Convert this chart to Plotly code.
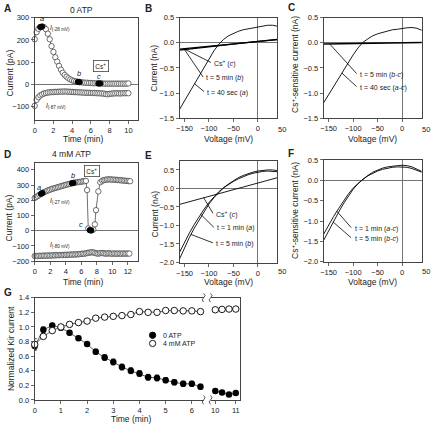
import plotly.graph_objects as go

W, H = 431, 432
def X(p): return p / W
def Y(p): return 1 - p / H

FONT = "Liberation Sans, Arial, sans-serif"
INK = "#222"

# ---------------- DATA ----------------
# Panel A (0 ATP)
tA = [0.0, 0.2, 0.4, 0.6, 0.8, 1.0, 1.2, 1.4, 1.6, 1.8, 2.0, 2.2, 2.4, 2.6, 2.8,
      3.0, 3.2, 3.4, 3.6, 3.8, 4.0, 4.2, 4.4, 4.6, 4.8, 5.0, 5.2, 5.4, 5.6, 5.8,
      6.0, 6.2, 6.4, 6.6, 6.8, 7.0, 7.2, 7.4, 7.6, 7.8, 8.0, 8.2, 8.4, 8.6, 8.8,
      9.0, 9.2, 9.4, 9.6, 9.8, 10.0]
iA_up = [203, 235, 250, 258, 260, 257, 248, 228, 203, 172, 146, 122, 102, 83, 66,
         52, 42, 34, 27, 22, 18, 15, 13, 11, 10, 9, 8, 7, 7, 6,
         6, 5, 5, 5, 4, 4, 4, 3, 3, 3, 3, 3, 3, 3, 3,
         3, 3, 3, 3, 3, 4]
iA_low = [-97, -70, -58, -50, -45, -41, -39, -37, -36, -35, -35, -34, -34, -33, -33,
          -33, -32, -33, -33, -34, -34, -35, -35, -36, -36, -37, -37, -38, -38, -38,
          -39, -39, -39, -40, -40, -41, -41, -42, -44, -45, -43, -42, -41, -41, -40,
          -41, -41, -40, -40, -40, -40]
tA_filled = [0.6, 0.8, 4.6, 4.8, 6.8, 7.0]

# Panel D (4 mM ATP)
tD_up = [0.0, 0.2, 0.4, 0.6, 0.8, 1.0, 1.2, 1.4, 1.6, 1.8, 2.0, 2.2, 2.4, 2.6, 2.8,
         3.0, 3.2, 3.4, 3.6, 3.8, 4.0, 4.2, 4.4, 4.6, 4.8, 5.0, 5.2, 5.4, 5.6, 5.8,
         6.0, 6.2, 6.4, 6.6, 6.75, 6.9, 7.1, 7.3, 7.55, 7.75, 7.9, 8.2, 8.45, 8.7,
         8.9, 9.1, 9.3, 9.5, 9.7, 9.9, 10.1, 10.3, 10.5, 10.7, 10.9, 11.1, 11.3,
         11.5, 11.7, 11.9, 12.1, 12.3]
iD_up = [215, 222, 228, 235, 242, 248, 252, 257, 262, 266, 270, 274, 277, 280, 283,
         286, 289, 292, 295, 298, 301, 304, 306, 309, 312, 314, 316, 318, 319, 320,
         322, 324, 325, 327, 267, 15, 4, 2, 8, 42, 135, 258, 318, 328,
         332, 334, 336, 337, 337, 336, 335, 335, 334, 333, 332, 331, 330,
         329, 328, 327, 326, 325]
tD_low = [0.0, 0.2, 0.4, 0.6, 0.8, 1.0, 1.2, 1.4, 1.6, 1.8, 2.0, 2.2, 2.4, 2.6, 2.8,
          3.0, 3.2, 3.4, 3.6, 3.8, 4.0, 4.2, 4.4, 4.6, 4.8, 5.0, 5.2, 5.4, 5.6, 5.8,
          6.0, 6.2, 6.4, 6.6, 6.8, 7.0, 7.2, 7.4, 7.6, 7.8, 8.0, 8.2, 8.4, 8.6, 8.8,
          9.0, 9.2, 9.4, 9.6, 9.8, 10.0, 10.2, 10.4, 10.6, 10.8, 11.0, 11.2, 11.4,
          11.6, 11.8, 12.0, 12.2]
iD_low = [-166, -165, -166, -164, -165, -164, -163, -164, -163, -162,
          -163, -162, -161, -162, -160, -161, -160, -159, -160, -158,
          -159, -157, -158, -156, -157, -155, -156, -154, -155, -153,
          -152, -150, -151, -148, -146, -144, -142, -141, -143, -146,
          -149, -150, -148, -146, -147, -149, -150, -149, -148, -150,
          -151, -149, -150, -151, -149, -150, -151, -149, -150, -150,
          -149, -150]
tD_filled = [0.8, 1.0, 4.8, 5.0, 7.1, 7.3]

# I-V curves (voltage in mV, current in nA)
V = [-160, -150, -140, -130, -120, -110, -100, -90, -80, -70, -60, -50, -40, -30,
     -20, -10, 0, 10, 20, 30, 40]
B_a = [-1.32, -1.15, -0.98, -0.81, -0.64, -0.47, -0.31, -0.16, -0.03, 0.07, 0.14,
       0.19, 0.23, 0.26, 0.28, 0.30, 0.31, 0.33, 0.35, 0.35, 0.33]
B_b = [-0.145, -0.135, -0.124, -0.113, -0.102, -0.091, -0.080, -0.069, -0.058,
       -0.047, -0.036, -0.025, -0.014, -0.003, 0.008, 0.019, 0.030, 0.040, 0.050,
       0.060, 0.070]
B_c = [-0.125, -0.116, -0.106, -0.097, -0.087, -0.078, -0.068, -0.059, -0.049,
       -0.040, -0.030, -0.021, -0.011, -0.002, 0.008, 0.017, 0.027, 0.036, 0.046,
       0.055, 0.065]
C_ac = [-1.19, -1.03, -0.87, -0.71, -0.55, -0.39, -0.24, -0.10, 0.01, 0.08, 0.14,
        0.18, 0.21, 0.24, 0.26, 0.27, 0.29, 0.30, 0.305, 0.29, 0.25]
C_bc = [-0.022, -0.020, -0.019, -0.017, -0.015, -0.013, -0.012, -0.010, -0.008,
        -0.006, -0.004, -0.002, 0.000, 0.002, 0.003, 0.004, 0.005, 0.006, 0.007,
        0.007, 0.007]
E_a = [-1.72, -1.45, -1.20, -0.97, -0.76, -0.56, -0.38, -0.22, -0.09, 0.02, 0.11,
       0.19, 0.26, 0.32, 0.37, 0.41, 0.44, 0.46, 0.47, 0.47, 0.45]
E_b = [-1.90, -1.60, -1.32, -1.07, -0.84, -0.62, -0.42, -0.25, -0.10, 0.02, 0.12,
       0.21, 0.29, 0.35, 0.40, 0.44, 0.47, 0.49, 0.50, 0.50, 0.48]
E_c = [-0.43, -0.395, -0.36, -0.325, -0.29, -0.255, -0.22, -0.185, -0.15, -0.115,
       -0.08, -0.045, -0.01, 0.025, 0.06, 0.095, 0.13, 0.17, 0.21, 0.25, 0.29]
F_ac = [-1.32, -1.10, -0.89, -0.70, -0.51, -0.34, -0.19, -0.07, 0.03, 0.11, 0.18,
        0.23, 0.27, 0.30, 0.32, 0.33, 0.33, 0.32, 0.29, 0.25, 0.20]
F_bc = [-1.47, -1.23, -1.00, -0.79, -0.58, -0.39, -0.22, -0.08, 0.03, 0.12, 0.20,
        0.26, 0.30, 0.33, 0.35, 0.36, 0.37, 0.36, 0.33, 0.28, 0.22]

# Panel G (normalized Kir current)
tG = [0, 0.33, 0.67, 1.0, 1.33, 1.67, 2.0, 2.33, 2.67, 3.0, 3.33, 3.67, 4.0, 4.33,
      4.67, 5.0, 5.33, 5.67, 6.0, 6.33, 10.0, 10.33, 10.67, 11.0]
G_0atp = [0.74, 0.96, 1.02, 0.99, 0.92, 0.845, 0.765, 0.66, 0.58, 0.52, 0.45, 0.40,
          0.36, 0.31, 0.30, 0.27, 0.24, 0.22, 0.22, 0.18, 0.12, 0.10, 0.075, 0.095]
G_0atp_err = [0.05, 0.04, 0.03, 0.03, 0.03, 0.03, 0.03, 0.035, 0.04, 0.04, 0.04,
              0.04, 0.04, 0.04, 0.04, 0.035, 0.035, 0.035, 0.035, 0.035, 0.02,
              0.02, 0.015, 0.015]
G_4atp = [0.76, 0.87, 0.95, 1.00, 1.035, 1.06, 1.08, 1.12, 1.135, 1.145, 1.155,
          1.17, 1.21, 1.20, 1.20, 1.225, 1.225, 1.22, 1.22, 1.21, 1.235, 1.24,
          1.245, 1.245]
G_4atp_err = [0.08, 0.03, 0.025, 0.02, 0.02, 0.015, 0.015, 0.015, 0.015, 0.015,
              0.015, 0.015, 0.015, 0.015, 0.015, 0.015, 0.015, 0.015, 0.015, 0.015,
              0.015, 0.015, 0.015, 0.015]

# ---------------- FIGURE ----------------
fig = go.Figure()

def pick(ts, vs, sel):
    xs, ys = [], []
    for t, v in zip(ts, vs):
        if any(abs(t - s) < 1e-6 for s in sel):
            xs.append(t); ys.append(v)
    return xs, ys

open_marker = dict(symbol="circle", size=5.4, color="white", line=dict(color="#333", width=0.7))
filled_marker = dict(symbol="circle", size=5.4, color="black", line=dict(color="black", width=0.7))

def ts_traces(xa, ya, t, y):
    fig.add_trace(go.Scatter(x=t, y=y, mode="lines+markers", xaxis=xa, yaxis=ya,
                             line=dict(color="#333", width=0.7), marker=open_marker,
                             showlegend=False, cliponaxis=False))

ts_traces("x", "y", tA, iA_low)
ts_traces("x", "y", tA, iA_up)
fx_, fy_ = pick(tA, iA_up, tA_filled)
fig.add_trace(go.Scatter(x=fx_, y=fy_, mode="markers", xaxis="x", yaxis="y",
                         marker=filled_marker, showlegend=False))

ts_traces("x4", "y4", tD_low, iD_low)
ts_traces("x4", "y4", tD_up, iD_up)
fx_, fy_ = pick(tD_up, iD_up, tD_filled)
fig.add_trace(go.Scatter(x=fx_, y=fy_, mode="markers", xaxis="x4", yaxis="y4",
                         marker=filled_marker, showlegend=False))

def iv(xa, ya, ys, w=0.9):
    fig.add_trace(go.Scatter(x=V, y=ys, mode="lines", xaxis=xa, yaxis=ya,
                             line=dict(color="black", width=w), showlegend=False))

iv("x2", "y2", B_a); iv("x2", "y2", B_b, 1.3); iv("x2", "y2", B_c, 1.3)
iv("x3", "y3", C_ac); iv("x3", "y3", C_bc, 1.6)
iv("x5", "y5", E_a); iv("x5", "y5", E_b); iv("x5", "y5", E_c)
iv("x6", "y6", F_ac); iv("x6", "y6", F_bc)

# Panel G
def gsplit(lo, hi, ys, es):
    idx = [i for i, t in enumerate(tG) if lo <= t <= hi]
    return [tG[i] for i in idx], [ys[i] for i in idx], [es[i] for i in idx]

for xa, ya, lo, hi in [("x7", "y7", 0, 7), ("x8", "y8", 9, 12)]:
    t0, y0, e0 = gsplit(lo, hi, G_0atp, G_0atp_err)
    t4, y4, e4 = gsplit(lo, hi, G_4atp, G_4atp_err)
    fig.add_trace(go.Scatter(x=t0, y=y0, mode="lines+markers", xaxis=xa, yaxis=ya,
                             error_y=dict(type="data", array=e0, color="black",
                                          thickness=0.8, width=2),
                             line=dict(color="#333", width=0.8),
                             marker=dict(symbol="circle", size=6.5, color="black"),
                             showlegend=False, cliponaxis=False))
    fig.add_trace(go.Scatter(x=t4, y=y4, mode="lines+markers", xaxis=xa, yaxis=ya,
                             error_y=dict(type="data", array=e4, color="#333",
                                          thickness=0.8, width=2),
                             line=dict(color="#333", width=0.8),
                             marker=dict(symbol="circle", size=6.5, color="white",
                                         line=dict(color="black", width=0.9)),
                             showlegend=False, cliponaxis=False))

# ---------------- AXES ----------------
TICKF = dict(family=FONT, size=7.5, color=INK)
def axstyle(**kw):
    d = dict(showgrid=False, zeroline=False, showline=True, mirror=True,
             linecolor="#444", linewidth=1, ticks="outside", ticklen=3,
             tickcolor="#444", tickwidth=0.8, tickfont=TICKF, fixedrange=True)
    d.update(kw)
    return d

def xax(**kw):
    return axstyle(**kw)

def dom(a, b): return [a / W, b / W]
def vdom(top, bot): return [1 - bot / H, 1 - top / H]

zl = dict(zeroline=True, zerolinecolor="#666", zerolinewidth=0.9)

lay = dict(
    xaxis=xax(domain=dom(31, 135), range=[0, 11], tickvals=[0, 2, 4, 6, 8, 10], anchor="y"),
    yaxis=axstyle(domain=vdom(14, 118.3), range=[-160, 300],
                  tickvals=[-100, 0, 100, 200, 300], anchor="x", **zl),
    xaxis2=xax(domain=dom(177.3, 276), range=[-160, 40], tickvals=[-150, -100, -50, 0],
               anchor="y2", **zl),
    yaxis2=axstyle(domain=vdom(14, 116.7), range=[-1.5, 0.5], tickvals=[-1.5, -1, -0.5, 0, 0.5],
                   tickformat=".1f", anchor="x2", **zl),
    xaxis3=xax(domain=dom(322.7, 421.7), range=[-160, 40], tickvals=[-150, -100, -50, 0],
               anchor="y3", **zl),
    yaxis3=axstyle(domain=vdom(14, 116.7), range=[-1.5, 0.5], tickvals=[-1.5, -1, -0.5, 0, 0.5],
                   tickformat=".1f", anchor="x3", **zl),
    xaxis4=xax(domain=dom(31, 135), range=[0, 13.28], tickvals=[0, 2, 4, 6, 8, 10, 12],
               anchor="y4"),
    yaxis4=axstyle(domain=vdom(162.3, 262.7), range=[-200, 445],
                   tickvals=[-200, -100, 0, 100, 200, 300, 400], anchor="x4", **zl),
    xaxis5=xax(domain=dom(177.3, 276), range=[-160, 40], tickvals=[-150, -100, -50, 0],
               anchor="y5", **zl),
    yaxis5=axstyle(domain=vdom(160, 264), range=[-2, 0.75],
                   tickvals=[-2, -1.5, -1, -0.5, 0, 0.5], tickformat=".1f", anchor="x5", **zl),
    xaxis6=xax(domain=dom(322.7, 421.7), range=[-160, 40], tickvals=[-150, -100, -50, 0],
               anchor="y6", **zl),
    yaxis6=axstyle(domain=vdom(159.3, 263.3), range=[-2, 0.5],
                   tickvals=[-2, -1.5, -1, -0.5, 0, 0.5], tickformat=".1f", anchor="x6", **zl),
    xaxis7=xax(domain=dom(31, 201.5), range=[0, 6.45], tickvals=[0, 1, 2, 3, 4, 5, 6],
               anchor="y7"),
    yaxis7=axstyle(domain=vdom(300, 404.3), range=[0, 1.4], mirror=False,
                   tickvals=[0, 0.2, 0.4, 0.6, 0.8, 1.0, 1.2, 1.4], tickformat=".1f",
                   anchor="x7"),
    xaxis8=xax(domain=dom(208.5, 238.3), range=[9.77, 11.21], tickvals=[10, 11],
               anchor="y8"),
    yaxis8=axstyle(domain=vdom(300, 404.3), range=[0, 1.4], matches="y7", mirror=False,
                   side="right", ticks="", showticklabels=False, anchor="x8"),
)

# ---------------- ANNOTATIONS ----------------
anns = []
def A(text, x, y, size=7.5, xanchor="center", yanchor="middle", angle=0, bold=False,
      xref="paper", yref="paper", **kw):
    if xref == "paper":
        x = X(x)
    if yref == "paper":
        y = Y(y)
    t = f"<b>{text}</b>" if bold else text
    d = dict(text=t, x=x, y=y, xref=xref, yref=yref, showarrow=False,
             xanchor=xanchor, yanchor=yanchor, textangle=angle,
             font=dict(family=FONT, size=size, color=INK))
    d.update(kw)
    anns.append(d)

# panel letters
for L, x, y in [("A", 4, 4.5), ("B", 146, 4.5), ("C", 290, 4), ("D", 4, 153.7),
                ("E", 145.5, 154.5), ("F", 290, 153), ("G", 4, 295)]:
    A(L, x, y, size=10, bold=True)

# titles
A("0 ATP", 78, 6.5, size=8.5)
A("4 mM ATP", 68, 153.3, size=8.5)

# axis titles
A("Current (pA)", 6, 70, size=8.5, angle=-90)
A("Time (min)", 80, 137.5, size=8.5)
A("Current (nA)", 151.5, 66, size=8.5, angle=-90)
A("Voltage (mV)", 227, 137.5, size=8.5)
A("Cs<sup>+</sup>-sensitive current (nA)", 294, 62, size=8.5, angle=-90)
A("Voltage (mV)", 372, 137.5, size=8.5)
A("Current (pA)", 6, 218, size=8.5, angle=-90)
A("Time (min)", 80, 284, size=8.5)
A("Current (nA)", 151.5, 215, size=8.5, angle=-90)
A("Voltage (mV)", 227, 284, size=8.5)
A("Cs<sup>+</sup>-sensitive current (nA)", 294, 211, size=8.5, angle=-90)
A("Voltage (mV)", 372, 284, size=8.5)
A("Normalized Kir current", 6.5, 352, size=8.5, angle=-90)
A("Time (min)", 128, 423.5, size=8.5)

# "50" tick labels beyond box edge
A("50", 280.9, 127.8)
A("50", 280.9, 273.4)
A("50", 426.3, 127.8)
A("50", 426.3, 272.8)

# Panel A labels
A("<i>a</i>", 38, 15, size=7.5)
A("<i>I</i><sub>(-28 mV)</sub>", 44.5, 24, size=6.5, xanchor="left")
A("<i>b</i>", 76, 71, size=7.5)
A("<i>c</i>", 96, 74, size=7.5)
A("<i>I</i><sub>(-87 mV)</sub>", 40.5, 104, size=6.5, xanchor="left")
A("Cs<sup>+</sup>", 98, 63.5, size=6.5, bordercolor="#444", borderwidth=0.8, borderpad=1.5)
# Panel D labels
A("<i>a</i>", 35.3, 187.3, size=7.5)
A("<i>I</i><sub>(-27 mV)</sub>", 44.5, 200.7, size=6.5, xanchor="left")
A("<i>b</i>", 69.7, 174.7, size=7.5)
A("<i>c</i>", 77.3, 224.7, size=7.5)
A("<i>I</i><sub>(-80 mV)</sub>", 44.5, 246.3, size=6.5, xanchor="left")
A("Cs<sup>+</sup>", 89, 170.5, size=6.5, bordercolor="#444", borderwidth=0.8, borderpad=1.5)

# IV curve labels + leader lines (data coords)
shapes = []
def lbl(xa, ya, text, x, y, x0, y0, x1, y1):
    A(text, x, y, size=7, xanchor="left", xref=xa, yref=ya)
    shapes.append(dict(type="line", xref=xa, yref=ya, x0=x0, y0=y0, x1=x1, y1=y1,
                       line=dict(color="black", width=0.8)))

lbl("x2", "y2", "Cs<sup>+</sup> (<i>c</i>)", -94, -0.41, -150, -0.125, -96, -0.39)
lbl("x2", "y2", "t = 5 min (<i>b</i>)", -110, -0.70, -150, -0.135, -112, -0.68)
lbl("x2", "y2", "t = 40 sec (<i>a</i>)", -108, -0.99, -130, -0.81, -110, -0.97)
lbl("x3", "y3", "t = 5 min (<i>b-c</i>)", -91, -0.63, -148, -0.02, -93, -0.61)
lbl("x3", "y3", "t = 40 sec (<i>a-c</i>)", -91, -0.89, -123, -0.60, -93, -0.87)
lbl("x5", "y5", "Cs<sup>+</sup> (<i>c</i>)", -90, -0.70, -111, -0.25, -92, -0.67)
lbl("x5", "y5", "t = 1 min (<i>a</i>)", -88, -1.08, -117, -0.70, -90, -1.05)
lbl("x5", "y5", "t = 5 min (<i>b</i>)", -90, -1.50, -137, -1.24, -92, -1.47)
lbl("x6", "y6", "t = 1 min (<i>a-c</i>)", -101, -1.19, -133, -0.76, -104, -1.16)
lbl("x6", "y6", "t = 5 min (<i>b-c</i>)", -101, -1.44, -141, -1.02, -104, -1.41)

# Panel G legend (keys drawn as shapes)
r = 3.2
for cy, fill in [(338.3, "black"), (346.7, "white")]:
    shapes.append(dict(type="circle", xref="paper", yref="paper",
                       x0=X(150 - r), x1=X(150 + r), y0=Y(cy + r), y1=Y(cy - r),
                       fillcolor=fill, line=dict(color="black", width=0.9)))
A("0 ATP", 158, 338.3, size=7, xanchor="left")
A("4 mM ATP", 158, 346.7, size=7, xanchor="left")

# axis break marks
def wiggle(xp, yp):
    return (f"M {X(xp)},{Y(yp - 4.5)} Q {X(xp + 3)},{Y(yp - 2.2)} {X(xp)},{Y(yp)} "
            f"Q {X(xp - 3)},{Y(yp + 2.2)} {X(xp)},{Y(yp + 4.5)}")
for xp in (201.5, 208.5):
    for yp in (300, 404.3):
        shapes.append(dict(type="path", xref="paper", yref="paper", path=wiggle(xp, yp),
                           line=dict(color="#444", width=0.9)))

fig.update_layout(
    width=W, height=H, margin=dict(l=0, r=0, t=0, b=0),
    paper_bgcolor="white", plot_bgcolor="white",
    font=dict(family=FONT, size=7.5, color=INK),
    showlegend=False, annotations=anns, shapes=shapes, **lay,
)

# remove the browser's default 8px page margin so the figure sits at (0, 0)
fig.write_html("out.html",
               config={"displayModeBar": False, "staticPlot": True},
               post_script="document.body.style.margin='0';document.body.style.padding='0';")
